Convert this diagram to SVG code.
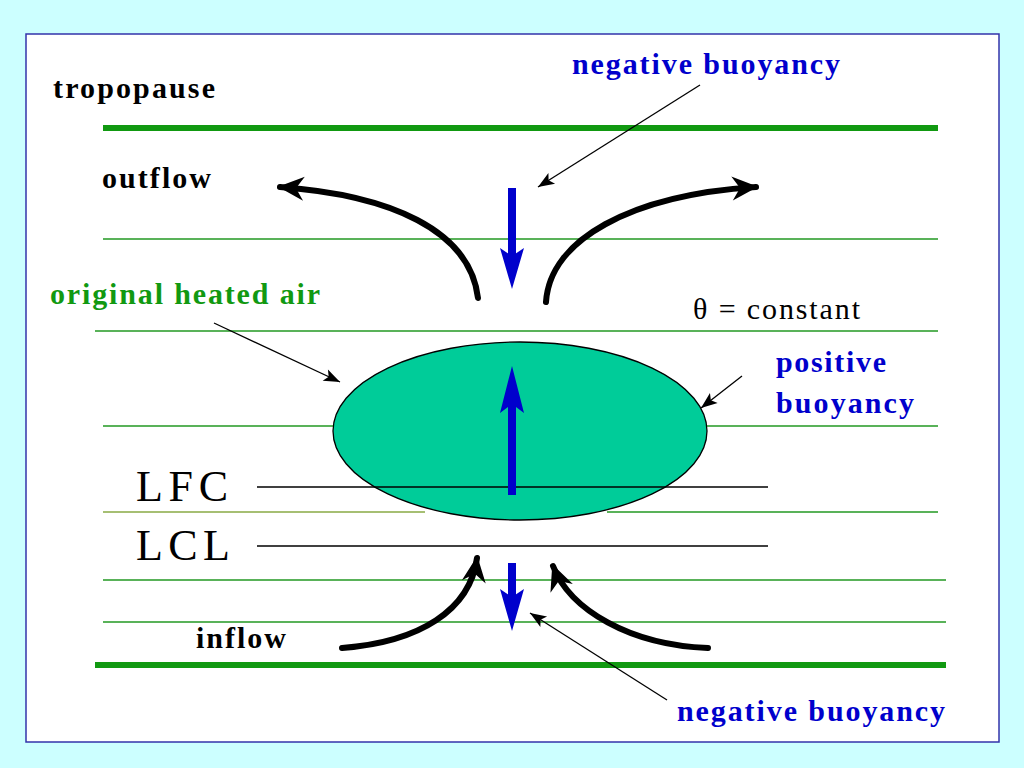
<svg xmlns="http://www.w3.org/2000/svg" width="1024" height="768" viewBox="0 0 1024 768">
<style>
.g{stroke:#229922;stroke-width:1.5}
.gt{stroke:#119911;stroke-width:6}
.k{stroke:#000;stroke-width:1.5}
.cur{fill:none;stroke:#000;stroke-width:6;stroke-linecap:round}
.ptr{stroke:#000;stroke-width:1.3;fill:none}
.b{font-family:"Liberation Serif",serif;font-weight:bold;font-size:30px}
.big{font-family:"Liberation Serif",serif;font-size:44px}
.blue{fill:#0000cc}
</style>
<defs>
<marker id="ch" markerUnits="userSpaceOnUse" markerWidth="40" markerHeight="40" refX="0" refY="0" viewBox="-30 -15 40 30" orient="auto" overflow="visible">
<path d="M2,0 L-24,-12 L-16,0 L-24,12 Z" fill="#000"/>
</marker>
<marker id="pt" markerUnits="userSpaceOnUse" markerWidth="20" markerHeight="20" viewBox="-14 -6 16 12" refX="0" refY="0" orient="auto" overflow="visible">
<path d="M0,0 L-13,-5 L-10,0 L-13,5 Z" fill="#000"/>
</marker>
</defs>
<rect width="1024" height="768" fill="#ccffff"/>
<rect x="26" y="34" width="973" height="708" fill="#fff" stroke="#3333aa" stroke-width="1.5"/>
<g id="levels">
<line class="gt" x1="103" y1="128" x2="938" y2="128"/>
<line class="g" x1="103" y1="239" x2="938" y2="239"/>
<line class="g" x1="95" y1="331" x2="938" y2="331"/>
<line class="g" x1="103" y1="426" x2="938" y2="426"/>
<line x1="103" y1="512" x2="425" y2="512" stroke="#88aa44" stroke-width="1.5"/>
<line class="g" x1="607" y1="512" x2="938" y2="512"/>
<line class="g" x1="103" y1="580" x2="946" y2="580"/>
<line class="g" x1="103" y1="622" x2="946" y2="622"/>
<line class="gt" x1="95" y1="665" x2="946" y2="665"/>
</g>
<g id="parcel"><ellipse cx="520" cy="431" rx="187" ry="89" fill="#00cc99" stroke="#000" stroke-width="1.3"/></g>
<g id="lfc-lcl">
<line class="k" x1="257" y1="487" x2="768" y2="487"/>
<line class="k" x1="257" y1="546" x2="768" y2="546"/>
</g>
<g id="buoyancy-arrows" fill="#0000cc">
<rect x="508" y="392" width="8" height="103"/><path d="M512,366 L500,413 L512,404 L524,413 Z"/>
<rect x="508" y="188" width="8" height="70"/><path d="M512,289 L500,248 L512,256 L524,248 Z"/>
<rect x="508" y="563" width="8" height="42"/><path d="M512,631 L500,589 L512,597 L524,589 Z"/>
</g>
<g id="connectors">
<path class="cur" d="M478,298 C470,230 390,195 280,187" marker-end="url(#ch)"/>
<path class="cur" d="M546,302 C550,240 630,195 756,187" marker-end="url(#ch)"/>
<path class="cur" d="M342,648 C420,642 470,610 477,558" marker-end="url(#ch)"/>
<path class="cur" d="M708,648 C630,645 570,610 553,566" marker-end="url(#ch)"/>
<path class="ptr" d="M700,85 L538,187" marker-end="url(#pt)"/>
<path class="ptr" d="M214,323 L340,382" marker-end="url(#pt)"/>
<path class="ptr" d="M742,376 L701,408" marker-end="url(#pt)"/>
<path class="ptr" d="M667,700 L530,613" marker-end="url(#pt)"/>
</g>
<g id="labels">
<text class="b blue" x="572" y="74" textLength="268">negative buoyancy</text>
<text class="b" x="53" y="98" textLength="162">tropopause</text>
<text class="b" x="102" y="188" textLength="109">outflow</text>
<text class="b" x="50" y="304" fill="#119911" textLength="270">original heated air</text>
<text x="693" y="319" font-family="Liberation Serif,serif" font-size="30" textLength="167">θ = constant</text>
<text class="b blue" x="776" y="372" textLength="110">positive</text>
<text class="b blue" x="776" y="413" textLength="138">buoyancy</text>
<text class="big" x="136" y="501" textLength="92">LFC</text>
<text class="big" x="136" y="560" textLength="94">LCL</text>
<text class="b" x="196" y="648" textLength="90">inflow</text>
<text class="b blue" x="677" y="721" textLength="268">negative buoyancy</text>
</g>
</svg>
